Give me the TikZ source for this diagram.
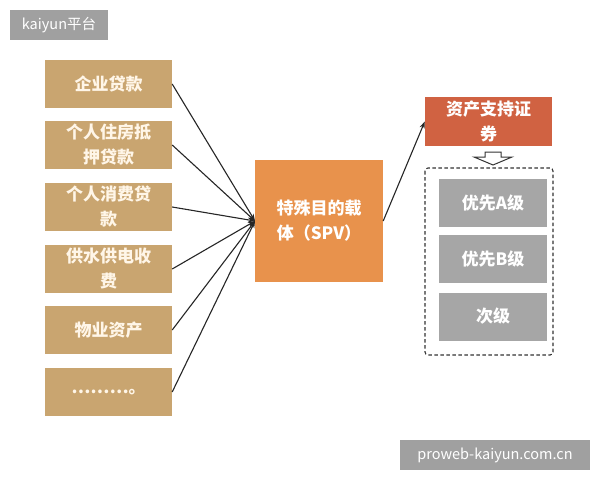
\documentclass[tikz,border=0pt]{standalone}
\usepackage{fontspec}
\setmainfont{Noto Sans CJK SC}
\newfontfamily\cjk{Noto Sans CJK SC}
\usetikzlibrary{arrows.meta}
\definecolor{tan}{RGB}{201,165,112}
\definecolor{spvorange}{RGB}{232,146,76}
\definecolor{assetred}{RGB}{208,98,66}
\definecolor{tiergray}{RGB}{166,166,166}
\definecolor{wmgray}{RGB}{160,160,160}
\definecolor{cream}{RGB}{255,246,232}
\tikzset{
  boxfont/.style={font=\cjk\bfseries\fontsize{17}{25}\selectfont},
  srcbox/.style={fill=tan, minimum width=127pt, minimum height=48pt, inner sep=2pt, align=center, text=cream, boxfont, text width=110pt},
  spvbox/.style={fill=spvorange, minimum width=128pt, minimum height=122pt, align=center, text=white, boxfont, text width=110pt},
  assetbox/.style={fill=assetred, minimum width=127pt, minimum height=49pt, align=center, text=white, boxfont, text width=110pt},
  tierbox/.style={fill=tiergray, minimum width=108pt, minimum height=48pt, align=center, text=white, boxfont},
  wmbox/.style={fill=wmgray, text=white, inner sep=0pt, font=\cjk\fontsize{14.5}{16}\selectfont},
  conn/.style={draw=black!85, line width=1.1pt, -{Stealth[length=7pt,width=5pt]}},
}
\begin{document}
\begin{tikzpicture}[x=1pt,y=-1pt]
\useasboundingbox[fill=white] (0,0) rectangle (600,480);
% watermarks
\node[wmbox, minimum width=98pt, minimum height=30pt] (wm1) at (59,25) {kaiyun平台};
\node[wmbox, minimum width=190pt, minimum height=30pt] (wm2) at (495,455) {proweb-kaiyun.com.cn};
% source boxes
\node[srcbox] (s1) at (108.5,84) {企业贷款};
\node[srcbox] (s2) at (108.5,145) {个人住房抵\\押贷款};
\node[srcbox] (s3) at (108.5,207) {个人消费贷\\款};
\node[srcbox] (s4) at (108.5,269) {供水供电收\\费};
\node[srcbox] (s5) at (108.5,330) {物业资产};
\node[srcbox] (s6) at (108.5,392) {………。};
% SPV
\node[spvbox] (spv) at (319,221) {特殊目的载\\体（SPV）};
% asset backed securities
\node[assetbox] (abs) at (488.5,121.5) {资产支持证\\券};
% dashed container
\draw[line width=1.1pt, draw=black!80, dash pattern=on 3.5pt off 2.5pt, rounded corners=3pt] (425,168) rectangle (553,355);
% tiers
\node[tierbox] (ta) at (493,203) {优先A级};
\node[tierbox] (tb) at (493,258.5) {优先B级};
\node[tierbox] (tc) at (493,316.5) {次级};
% hollow down arrow
\draw[fill=white, draw=black!80, line width=1pt] (485,152) -- (501,152) -- (501,157) -- (512,157) -- (493,165) -- (474,157) -- (485,157) -- cycle;
% connectors
\coordinate (hub) at (255,221);
\foreach \s in {s1,s2,s3,s4,s5,s6} {
  \draw[conn] (\s.east) -- (hub);
}
\draw[conn] (spv.east) -- (abs.west);
\end{tikzpicture}
\end{document}
